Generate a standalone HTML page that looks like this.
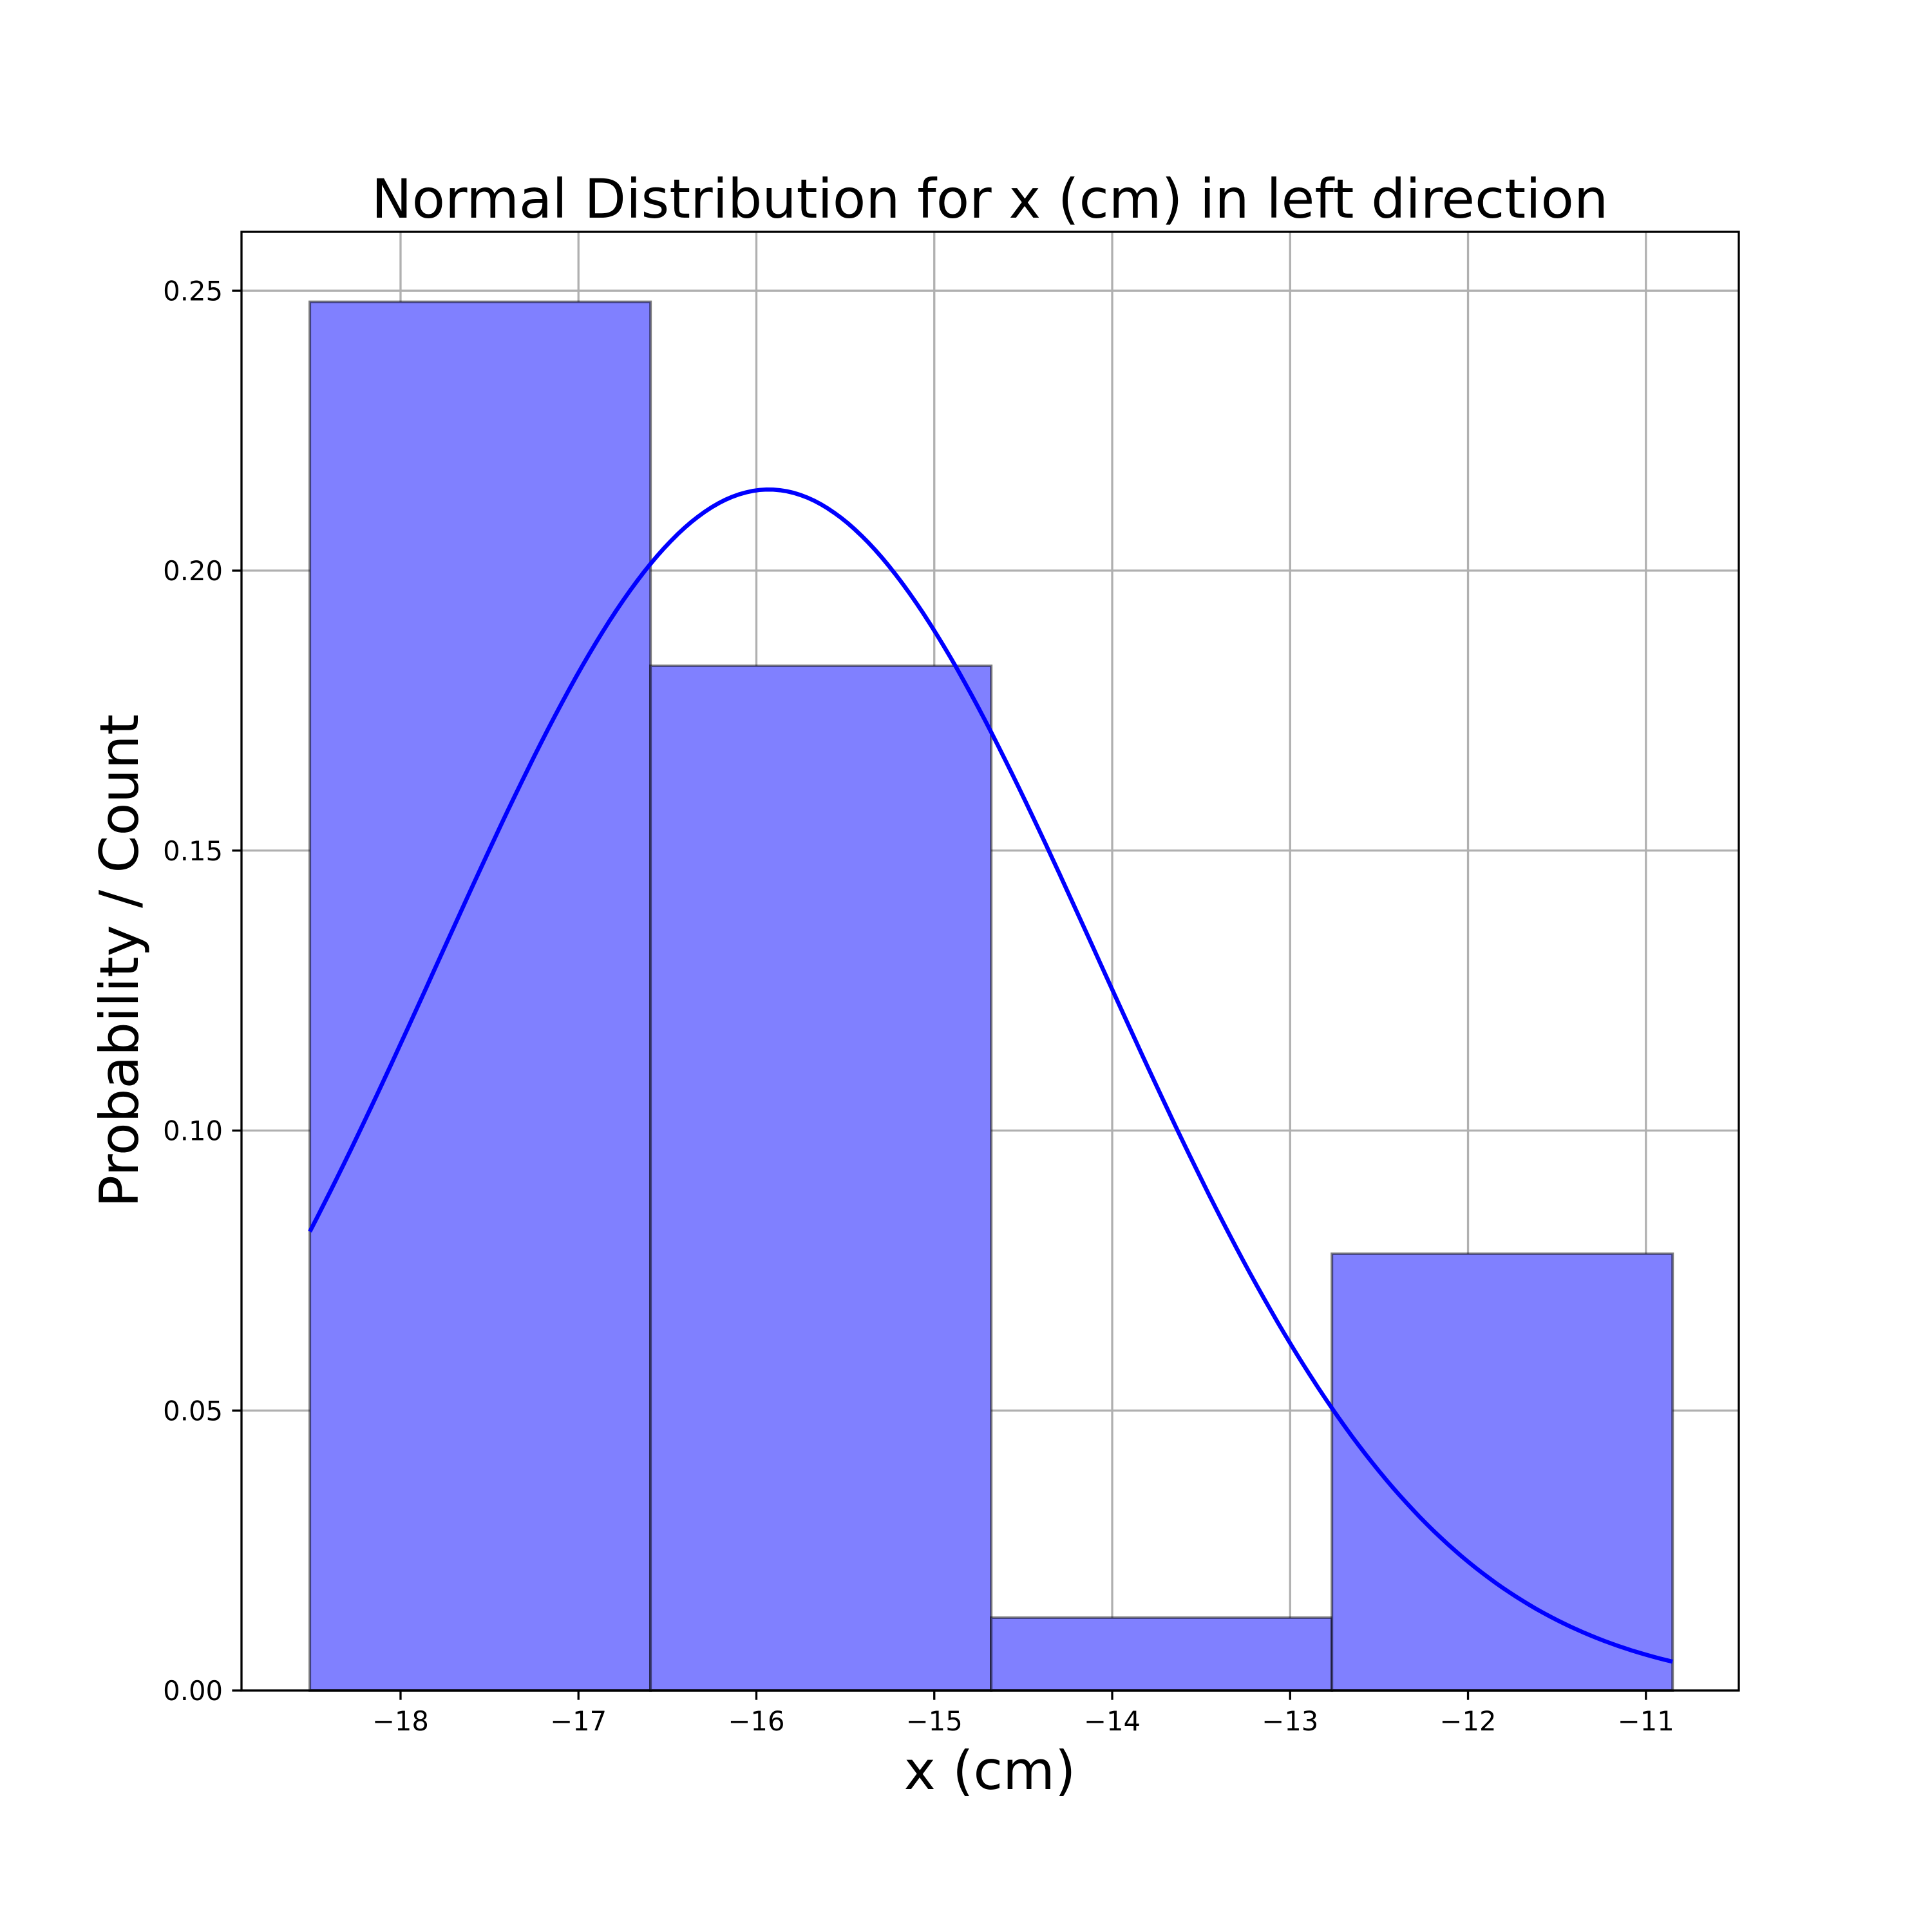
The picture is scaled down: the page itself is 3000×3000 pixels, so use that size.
<!DOCTYPE html>
<html><head><meta charset="utf-8"><style>
html,body{margin:0;padding:0;background:#fff;}
svg{display:block;font-family:"DejaVu Sans","Liberation Sans",sans-serif;}
</style></head><body>
<svg id="chart" width="3000" height="3000" viewBox="0 0 3000 3000" xmlns="http://www.w3.org/2000/svg">
<rect width="3000" height="3000" fill="#fff"/>
<text x="1537" y="338" font-size="84" text-anchor="middle">Normal Distribution for x (cm) in left direction</text>
<text x="1537" y="2778" font-size="83" text-anchor="middle">x (cm)</text>
<text transform="translate(214,1492) rotate(-90)" font-size="83" text-anchor="middle">Probability / Count</text>
<g id="grid"></g>
<g id="bars"></g>
<g id="curve"></g>
<g id="axes"></g>
</svg>
<script>
const binEdges = [-18.51, -16.595, -14.68, -12.765, -10.85];
const binHeights = [0.248, 0.183, 0.013, 0.078];
const xTicks = [-18, -17, -16, -15, -14, -13, -12, -11];
const xTickLabels = ["\u221218","\u221217","\u221216","\u221215","\u221214","\u221213","\u221212","\u221211"];
const yTicks = [0, 0.05, 0.10, 0.15, 0.20, 0.25];
const yTickLabels = ["0.00","0.05","0.10","0.15","0.20","0.25"];
const curveMu = [-15.93];
const curveSigma = [1.86];

const L=375,R=2700,T=360,B=2625;
const xMin=-18.894, xMax=-10.478, yMin=0, yMax=0.2605;
const sx=v=>L+(v-xMin)/(xMax-xMin)*(R-L);
const sy=v=>B-(v-yMin)/(yMax-yMin)*(B-T);
const NS="http://www.w3.org/2000/svg";
function mk(tag,attrs,parent){const e=document.createElementNS(NS,tag);for(const k in attrs)e.setAttribute(k,attrs[k]);parent.appendChild(e);return e;}
const grid=document.getElementById('grid'),bars=document.getElementById('bars'),curve=document.getElementById('curve'),axes=document.getElementById('axes');

xTicks.forEach((t,i)=>{
  const g=mk('line',{x1:sx(t),x2:sx(t),y1:T,y2:B,stroke:'#b0b0b0','stroke-width':3.3},grid);
  
  
  const tk=mk('line',{x1:sx(t),x2:sx(t),y1:B,y2:B+14.6,stroke:'#000','stroke-width':3.3},axes);
  
  
  const lb=mk('text',{x:sx(t),y:B+62,'font-size':41.7,'text-anchor':'middle'},axes);
  lb.textContent=xTickLabels[i];
  
  
});
yTicks.forEach((t,i)=>{
  const g=mk('line',{x1:L,x2:R,y1:sy(t),y2:sy(t),stroke:'#b0b0b0','stroke-width':3.3},grid);
  
  
  const tk=mk('line',{x1:L-14.6,x2:L,y1:sy(t),y2:sy(t),stroke:'#000','stroke-width':3.3},axes);
  
  
  const lb=mk('text',{x:L-29,y:sy(t)+15,'font-size':41.7,'text-anchor':'end'},axes);
  lb.textContent=yTickLabels[i];
  
  
});
binHeights.forEach((h,i)=>{
  const x0=sx(binEdges[i]),x1=sx(binEdges[i+1]);
  const r=mk('rect',{x:x0,y:sy(h),width:x1-x0,height:sy(0)-sy(h),fill:'#8080ff',stroke:'rgba(0,0,0,0.5)','stroke-width':4},bars);
  
  
});
const mu=curveMu[0],sg=curveSigma[0];
let d='';
const a=binEdges[0],b=binEdges[binEdges.length-1];
for(let k=0;k<=200;k++){
  const x=a+(b-a)*k/200;
  const y=Math.exp(-((x-mu)**2)/(2*sg*sg))/(sg*Math.sqrt(2*Math.PI));
  d+=(k?'L':'M')+sx(x).toFixed(1)+' '+sy(y).toFixed(1);
}
const p=mk('path',{d:d,fill:'none',stroke:'#0000ff','stroke-width':6.5},curve);


const fr=mk('rect',{x:L,y:T,width:R-L,height:B-T,fill:'none',stroke:'#000','stroke-width':3.3},axes);


</script>
</body></html>
